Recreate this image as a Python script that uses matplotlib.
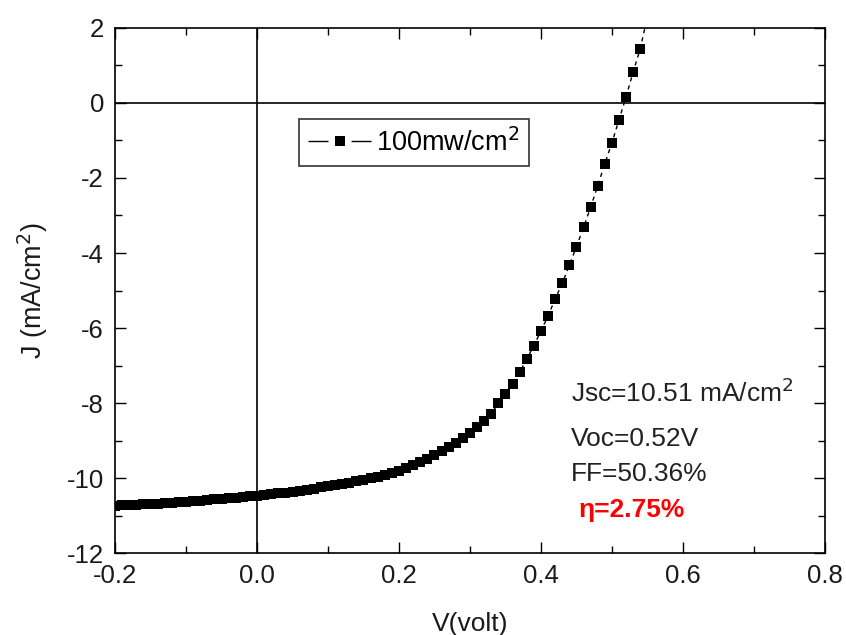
import numpy as np
import matplotlib
matplotlib.use("Agg")
import matplotlib.pyplot as plt
from matplotlib.lines import Line2D
from matplotlib.ticker import MultipleLocator

plt.rcParams['font.family'] = ['Liberation Sans', 'DejaVu Sans']
plt.rcParams['axes.unicode_minus'] = False

# J-V curve (V in volt, J in mA/cm2)
voltage = np.round(np.arange(-0.20, 0.551, 0.01), 2)
current = [
    -10.74, -10.73, -10.72, -10.71, -10.70, -10.69, -10.68, -10.67, -10.66, -10.645,
    -10.63, -10.61, -10.60, -10.58, -10.57, -10.55, -10.54, -10.52, -10.50, -10.49,
    -10.47, -10.45, -10.43, -10.41, -10.39, -10.37, -10.34, -10.31, -10.28, -10.25,
    -10.22, -10.19, -10.16, -10.12, -10.09, -10.05, -10.01, -9.97, -9.92, -9.87,
    -9.81, -9.74, -9.66, -9.58, -9.49, -9.39, -9.29, -9.18, -9.06, -8.93,
    -8.79, -8.64, -8.48, -8.28, -8.01, -7.77, -7.48, -7.18, -6.83, -6.47,
    -6.08, -5.68, -5.23, -4.81, -4.33, -3.83, -3.32, -2.78, -2.21, -1.62,
    -1.06, -0.45, 0.17, 0.83, 1.45, 2.30,
]
legend_label = '100mw/cm$^2$'
notes = ['Jsc=10.51 mA/cm$^2$', 'Voc=0.52V', 'FF=50.36%']
eta_note = '\u03b7=2.75%'

fig = plt.figure(figsize=(8.46, 6.35), dpi=100)
ax = fig.add_axes([0.136, 0.129, 0.839, 0.827])

ax.axhline(0, color='black', lw=1.2, zorder=1)
ax.axvline(0, color='black', lw=1.2, zorder=1)
ax.plot(voltage, current, color='black', lw=1.0, ls=(0, (3, 3)),
        marker='s', markersize=6.8, markeredgewidth=0, zorder=3)

ax.set_xlim(-0.2, 0.8)
ax.set_ylim(-12, 2)
ax.xaxis.set_major_locator(MultipleLocator(0.2))
ax.xaxis.set_minor_locator(MultipleLocator(0.1))
ax.yaxis.set_major_locator(MultipleLocator(2))
ax.yaxis.set_minor_locator(MultipleLocator(1))
ax.xaxis.set_major_formatter(plt.FuncFormatter(lambda v, p: f'{v:.1f}'))
ax.tick_params(which='both', direction='in', top=True, right=True,
               labelsize=18.5, labelcolor='#1a1a1a', width=1.0, pad=8)
ax.tick_params(which='major', length=8)
ax.tick_params(which='minor', length=5)
for sp in ax.spines.values():
    sp.set_linewidth(1.2)

ax.set_xlabel('V(volt)', fontsize=19, labelpad=17, color='#1a1a1a')
ax.set_ylabel('J (mA/cm$^2$)', fontsize=19.5, labelpad=12, color='#1a1a1a')

# legend handle drawn as "- [] -" like the original software
handle = Line2D([], [], color='black', lw=1.0, ls=(0, (14.4, 16.6)),
                marker='s', markersize=6.8, markeredgewidth=0)
leg = ax.legend([handle], [legend_label], loc='upper left',
                bbox_to_anchor=(0.259, 0.827), fontsize=19.5, frameon=True,
                fancybox=False, edgecolor='black', handlelength=2.35,
                handletextpad=0.15, borderpad=0.35, borderaxespad=0)
leg.get_frame().set_linewidth(1.2)

ys = [-7.98, -9.15, -10.08]
for txt, y in zip(notes, ys):
    ax.text(0.442, y, txt, fontsize=19, va='baseline', ha='left', color='#222222')
ax.text(0.453, -11.05, eta_note, fontsize=19, va='baseline', ha='left',
        color='red', fontweight='bold')

fig.savefig('out.png', dpi=100)
